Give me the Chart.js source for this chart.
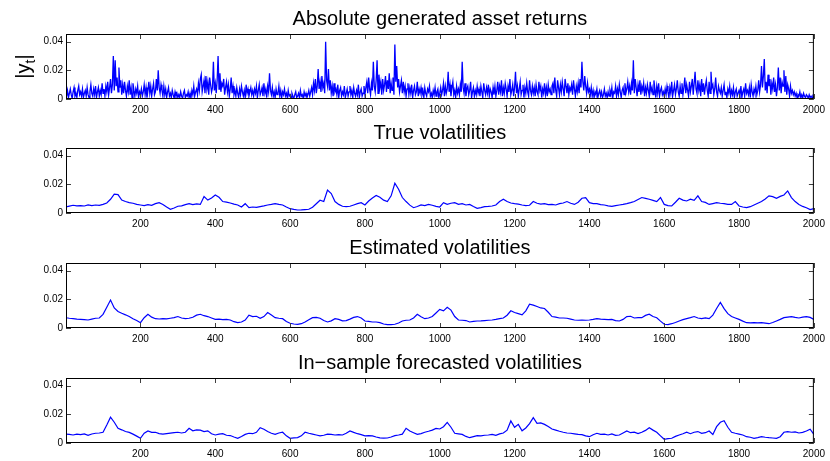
<!DOCTYPE html>
<html>
<head>
<meta charset="utf-8">
<script src="https://cdn.jsdelivr.net/npm/chart.js@4.4.0/dist/chart.umd.min.js"></script>
<style>
  html, body { margin: 0; padding: 0; background: #fff; }
  #wrap { position: relative; width: 830px; height: 461px; overflow: hidden; }
  .panel { position: absolute; left: 0; }
</style>
</head>
<body>
<div id="wrap"></div>
<script>
// All series values are in units of 1e-3.
const RET_STEP = 2.5;
const VOL_STEP = 10;

const absReturns = [
  2,6,1,4,7,3,0.5,5,8,2,4,1,6,9,3,5,2,7,1,4,
  6,2,8,3,1,5,10,4,2,7,3,9,1,5,8,2,6,3,11,4,
  7,2,9,5,12,3,8,14,4,10,30,6,27,9,15,5,22,8,13,3,
  10,4,12,6,2,9,5,13,3,8,1,11,6,2,7,4,9,1,5,3,
  7,2,5,10,3,8,1,6,12,4,9,2,7,11,3,5,14,6,20,8,
  4,10,6,2,9,3,7,1,5,8,2,4,1,6,3,0.5,5,2,4,1,
  3,1,5,2,0.5,4,6,1,3,2,5,1,4,0.5,6,3,9,2,5,7,
  3,11,6,14,17,5,9,13,4,16,7,12,3,15,10,5,8,26,6,11,
  4,13,30,7,18,5,11,9,14,3,8,12,5,10,2,7,15,4,9,3,
  6,2,8,4,1,7,3,9,5,2,6,1,10,4,7,2,5,8,3,6,
  2,7,4,9,1,6,10,3,5,8,2,11,4,7,1,9,5,18,6,3,
  8,2,5,1,7,3,4,9,2,6,1,5,3,7,2,4,1,6,2,3,
  1,4,2,0.5,3,5,1,2,4,1,6,2,3,0.5,5,2,4,1,3,6,
  2,5,8,3,11,6,14,4,9,21,7,12,5,16,8,11,4,40,13,9,
  21,6,13,4,9,2,11,5,7,3,10,1,6,8,2,5,3,9,1,4,
  7,2,5,9,3,6,1,8,4,2,6,3,10,1,5,7,2,4,9,3,
  8,12,4,15,7,3,11,6,26,9,5,13,27,4,17,8,12,3,14,6,
  10,16,5,13,7,18,4,11,6,15,3,38,12,23,8,14,5,9,13,4,
  12,5,9,2,7,11,3,8,4,10,1,6,9,3,5,12,2,7,4,8,
  3,6,1,8,4,2,7,5,9,2,4,1,6,3,8,2,5,7,1,4,
  8,3,6,11,2,9,4,7,19,5,10,2,8,12,3,6,1,9,4,7,
  3,10,5,26,8,4,11,2,7,9,3,6,12,1,5,8,2,6,3,9,
  4,7,2,9,5,1,11,6,3,8,4,10,2,7,5,1,8,3,9,2,
  6,12,3,9,5,13,2,8,4,11,7,2,9,5,14,3,6,10,2,8,
  19,4,9,2,7,12,3,6,10,1,8,4,11,5,2,13,6,3,9,4,
  8,2,10,5,3,12,6,9,1,7,4,11,3,8,2,10,5,7,3,9,
  11,4,15,6,2,13,8,3,10,5,12,7,2,14,9,4,11,3,8,6,
  10,3,13,7,2,9,5,11,4,14,8,26,12,6,16,9,4,11,5,7,
  3,8,2,6,1,5,3,7,1,4,6,2,5,1,3,7,2,4,1,5,
  2,6,3,8,1,5,4,9,2,7,3,10,5,1,6,8,3,11,4,7,
  12,5,9,3,11,6,27,4,14,8,2,10,5,13,3,9,6,11,2,8,
  4,10,6,2,12,5,8,3,13,7,1,9,4,11,2,6,8,3,5,2,
  7,3,9,5,1,8,4,12,2,6,10,3,7,13,5,2,9,4,11,3,
  8,15,4,10,6,2,12,5,9,14,3,11,19,7,4,13,6,10,2,14,
  5,11,3,9,13,6,2,12,4,19,8,10,3,7,15,5,2,9,6,4,
  8,2,6,10,3,5,1,7,4,9,2,6,3,8,1,5,7,2,4,6,
  3,9,1,5,7,2,11,4,6,3,8,1,10,5,2,7,4,9,3,6,
  13,5,10,23,8,16,28,6,12,4,17,9,14,3,11,7,15,5,10,2,
  8,22,6,15,4,12,9,20,5,16,3,10,7,2,9,4,6,3,5,2,
  4,1,3,2,5,1,3,0.5,4,2,1,3,2,0.5,3,1,2,1,2,1,
];

const trueVol = [
  4.2,4.8,5.4,5.0,5.2,4.9,5.6,5.1,5.6,5.3,
  6.0,7.0,9.6,13.2,12.8,9.0,8.0,7.2,6.8,6.0,
  5.6,5.2,5.8,5.4,6.5,7.2,6.0,4.2,2.6,3.5,
  4.7,5.0,5.8,6.5,5.8,6.3,6.0,11.5,9.0,10.5,
  12.6,11.0,8.0,7.6,7.0,6.2,5.6,4.2,6.5,3.7,
  4.2,4.0,4.5,5.0,5.6,6.0,6.5,6.0,5.6,4.2,
  3.0,2.5,2.1,2.2,2.4,2.6,4.0,6.5,8.9,8.0,
  16.0,13.6,8.0,6.0,4.7,4.4,4.7,5.6,6.5,7.2,
  5.6,8.4,10.5,12.2,11.0,9.0,8.0,12.0,20.8,16.6,
  10.8,8.0,5.5,3.7,4.5,5.6,5.2,6.0,5.4,4.6,
  4.2,7.2,6.0,6.8,7.2,6.0,6.5,5.6,6.0,4.5,
  3.3,3.8,4.4,4.6,4.9,5.6,8.0,9.6,8.0,7.0,
  6.5,6.2,5.6,5.2,5.4,8.0,6.8,6.2,6.5,5.8,
  6.0,5.6,6.5,7.0,8.0,6.8,6.0,7.5,10.3,10.8,
  7.2,6.5,6.5,5.8,5.6,5.0,4.7,5.2,5.6,6.0,
  6.5,7.2,8.0,9.4,10.8,10.2,9.6,8.8,8.0,10.8,
  6.0,5.2,4.9,7.5,10.3,9.0,8.4,9.6,8.8,12.0,
  8.0,7.4,6.0,6.6,7.2,6.8,6.5,6.0,6.0,8.0,
  4.9,4.2,3.7,4.4,5.6,6.8,8.0,9.8,12.0,11.4,
  10.3,11.6,12.6,15.4,10.8,8.0,6.0,4.6,3.7,2.4,
  3.0,
];

const estimatedVol = [
  7.2,6.8,6.5,6.2,6.0,5.8,5.6,6.2,6.8,7.0,
  9.5,14.5,19.5,14.0,11.5,10.3,9.2,8.0,6.5,5.2,
  3.7,7.2,9.6,7.6,6.5,6.3,6.5,6.4,6.8,7.2,
  8.0,7.0,6.5,6.8,7.5,9.0,9.6,8.6,8.0,7.0,
  6.0,6.2,5.8,6.0,5.6,4.4,3.7,4.2,5.5,8.9,
  8.0,8.2,6.8,8.0,10.8,9.0,7.2,6.8,6.5,4.5,
  3.3,2.8,2.6,3.0,4.2,5.8,7.2,7.4,6.8,5.2,
  4.2,5.0,6.5,6.0,5.0,5.2,6.2,7.4,8.0,7.0,
  4.9,4.6,4.2,4.2,3.7,2.8,2.3,2.4,2.6,3.5,
  4.9,5.4,5.6,7.0,9.6,7.8,6.5,7.0,8.0,10.5,
  13.0,12.0,14.5,12.5,8.0,5.6,5.4,5.2,4.2,4.6,
  4.9,5.0,5.2,5.4,5.6,6.0,6.5,7.0,8.9,12.0,
  10.8,10.0,9.2,12.0,16.6,16.0,15.0,14.0,13.6,11.0,
  8.0,7.6,7.0,7.0,6.8,6.2,5.6,5.4,5.6,5.4,
  5.6,6.0,6.5,6.2,6.0,5.8,6.0,5.2,4.9,6.0,
  8.0,8.2,7.0,7.2,7.2,8.8,9.6,8.0,7.2,4.8,
  2.6,2.4,3.0,3.8,4.9,5.8,6.5,7.2,8.0,7.0,
  6.5,7.0,6.5,9.0,13.6,17.8,13.5,10.0,8.0,7.0,
  6.0,4.8,3.7,3.6,3.7,3.6,3.7,3.4,3.0,3.8,
  4.9,6.0,7.2,7.6,8.0,7.4,7.0,7.6,8.0,7.4,
  6.0,
];

const forecastVol = [
  6.3,6.0,5.6,6.2,5.8,6.4,5.4,6.3,6.8,7.0,
  7.5,12.6,18.0,14.5,10.3,9.2,8.0,7.4,6.2,4.8,
  3.3,6.8,8.4,7.4,7.5,6.6,6.2,6.6,6.9,7.2,
  7.5,7.0,7.5,10.3,8.5,9.2,9.0,8.0,8.5,6.5,
  5.6,6.2,6.5,5.4,5.2,4.2,3.3,4.6,6.0,6.8,
  6.5,7.5,10.7,9.6,8.0,6.8,6.0,7.0,7.5,5.0,
  3.3,3.6,3.8,5.0,7.5,6.8,6.2,5.6,5.0,5.4,
  6.2,6.0,5.6,5.8,5.6,6.8,8.4,7.4,6.5,5.8,
  5.0,5.2,5.0,4.2,3.6,3.4,3.5,4.2,5.1,5.6,
  6.2,10.3,8.4,7.2,6.0,6.6,7.5,8.2,9.0,10.2,
  9.8,11.4,14.4,11.0,6.8,6.4,6.0,4.6,3.7,4.4,
  5.1,5.0,5.4,5.6,6.0,5.4,6.4,7.0,9.0,15.4,
  11.0,13.0,8.5,10.5,13.5,17.7,13.7,14.0,13.0,11.5,
  9.8,9.0,8.2,7.5,7.0,6.8,6.4,6.0,5.8,5.0,
  4.4,5.8,6.8,6.0,6.2,5.6,6.4,5.4,5.6,7.0,
  8.4,7.2,7.6,6.6,7.5,8.8,10.7,9.0,7.5,5.0,
  2.6,3.0,3.3,4.6,5.6,6.5,7.5,6.5,7.5,8.0,
  6.8,7.2,8.4,6.0,11.4,14.5,15.5,11.0,7.5,6.8,
  6.2,5.6,4.4,4.0,3.3,3.8,4.4,4.0,3.7,3.5,
  3.3,4.4,7.5,8.0,7.5,7.8,7.0,7.4,8.4,9.6,
  6.0,
];

const titles = [
  'Absolute generated asset returns',
  'True volatilities',
  'Estimated volatilities',
  'In\u2212sample forecasted volatilities',
];

const X_TICKS = [200, 400, 600, 800, 1000, 1200, 1400, 1600, 1800, 2000];
const Y_TICKS = [0, 20, 40];
const Y_TICK_LABELS = ['0', '0.02', '0.04'];

const FONT = "'Liberation Sans', Arial, Helvetica, sans-serif";
const TICK_LEN = 5;
const PANEL_TOPS = [0, 114, 229, 344];

// inward ticks on all four sides plus the axes box
const boxTicks = {
  id: 'boxTicks',
  afterDatasetsDraw(chart) {
    const { ctx, chartArea: a, scales: { x, y } } = chart;
    ctx.save();
    ctx.lineWidth = 1;
    ctx.strokeStyle = '#404040';
    ctx.beginPath();
    for (const v of X_TICKS) {
      const px = Math.round(x.getPixelForValue(v)) + 0.5;
      ctx.moveTo(px, a.bottom); ctx.lineTo(px, a.bottom - TICK_LEN);
      ctx.moveTo(px, a.top); ctx.lineTo(px, a.top + TICK_LEN);
    }
    for (const v of Y_TICKS) {
      const py = Math.round(y.getPixelForValue(v)) + 0.5;
      ctx.moveTo(a.left, py); ctx.lineTo(a.left + TICK_LEN, py);
      ctx.moveTo(a.right, py); ctx.lineTo(a.right - TICK_LEN, py);
    }
    ctx.stroke();
    ctx.strokeStyle = '#000';
    ctx.strokeRect(a.left + 0.5, a.top + 0.5, a.width - 1, a.height - 1);
    ctx.restore();
  },
};

// panel title centred over the plot area, plus the rotated |y_t| label
const panelText = {
  id: 'panelText',
  afterDraw(chart, args, opts) {
    const { ctx, chartArea: a } = chart;
    const big = `20px ${FONT}`, small = `14px ${FONT}`;
    ctx.save();
    ctx.fillStyle = '#000';
    ctx.font = big;
    ctx.textAlign = 'center';
    ctx.textBaseline = 'alphabetic';
    ctx.fillText(opts.title, (a.left + a.right) / 2, 25);

    if (opts.yLabel) {
      ctx.textAlign = 'left';
      ctx.translate(30, (a.top + a.bottom) / 2);
      ctx.rotate(-Math.PI / 2);
      const w1 = ctx.measureText('|y').width;
      const w3 = ctx.measureText('|').width;
      ctx.font = small;
      const w2 = ctx.measureText('t').width;
      const x0 = -(w1 + w2 + w3) / 2;
      ctx.font = big;
      ctx.fillText('|y', x0, 0);
      ctx.font = small;
      ctx.fillText('t', x0 + w1, 5);
      ctx.font = big;
      ctx.fillText('|', x0 + w1 + w2, 0);
    }
    ctx.restore();
  },
};

function makePanel(idx, xs, ys, width) {
  const canvas = document.createElement('canvas');
  canvas.className = 'panel';
  canvas.width = 830;
  canvas.height = 115;
  canvas.style.top = PANEL_TOPS[idx] + 'px';
  document.getElementById('wrap').appendChild(canvas);

  return new Chart(canvas.getContext('2d'), {
    type: 'line',
    data: {
      datasets: [{
        data: xs.map((x, i) => ({ x, y: ys[i] })),
        borderColor: '#0000ff',
        borderWidth: width,
        pointRadius: 0,
        tension: 0,
        fill: false,
      }],
    },
    options: {
      responsive: false,
      animation: false,
      devicePixelRatio: 1,
      layout: { padding: { left: 0, right: 13, top: 34, bottom: 0 } },
      plugins: {
        legend: { display: false },
        tooltip: { enabled: false },
        title: { display: false },
        panelText: { title: titles[idx], yLabel: idx === 0 },
      },
      scales: {
        x: {
          type: 'linear',
          min: 1,
          max: 2000,
          grid: { display: false, drawTicks: false },
          border: { display: false },
          ticks: {
            autoSkip: false,
            maxRotation: 0,
            padding: 5,
            color: '#000',
            font: { size: 10, family: FONT },
            callback: (v) => String(v),
          },
          afterBuildTicks(scale) { scale.ticks = X_TICKS.map((v) => ({ value: v })); },
          afterFit(scale) { scale.height = 16; },
        },
        y: {
          min: 0,
          max: 45.4,
          grid: { display: false, drawTicks: false },
          border: { display: false },
          ticks: {
            padding: 3,
            color: '#000',
            font: { size: 10, family: FONT },
            callback: (v) => Y_TICK_LABELS[Y_TICKS.indexOf(v)],
          },
          afterBuildTicks(scale) { scale.ticks = Y_TICKS.map((v) => ({ value: v })); },
          afterFit(scale) { scale.width = 66; },
        },
      },
    },
    plugins: [boxTicks, panelText],
  });
}

const retT = absReturns.map((_, i) => (i + 1) * RET_STEP);
const volT = trueVol.map((_, i) => i * VOL_STEP);

makePanel(0, retT, absReturns, 1.3);
makePanel(1, volT, trueVol, 1.2);
makePanel(2, volT, estimatedVol, 1.2);
makePanel(3, volT, forecastVol, 1.2);
</script>
</body>
</html>
